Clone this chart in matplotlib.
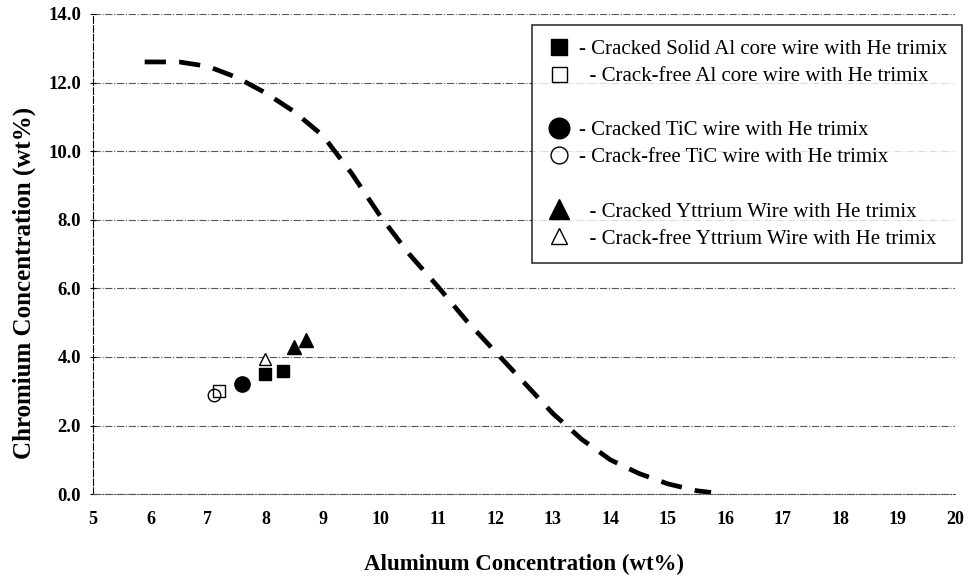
import matplotlib
matplotlib.use("Agg")
import matplotlib.pyplot as plt
from matplotlib.lines import Line2D
import numpy as np

plt.rcParams['font.family'] = ['Liberation Serif', 'DejaVu Serif']

# dashed boundary curve
curve_al = [5.9, 6.5, 7.0, 7.5, 8.0, 8.5, 9.0, 9.5, 10.0, 10.5, 11.0, 11.5,
            12.0, 12.5, 13.0, 13.5, 14.0, 14.5, 15.0, 15.5, 15.75]
curve_cr = [12.6, 12.6, 12.47, 12.15, 11.7, 11.15, 10.45, 9.35, 8.1, 7.0, 6.05,
            5.05, 4.15, 3.25, 2.35, 1.6, 1.0, 0.6, 0.3, 0.1, 0.05]

# samples
solid_cracked_al = [8.0, 8.3]
solid_cracked_cr = [3.5, 3.6]
solid_free_al = [7.2]
solid_free_cr = [3.0]
tic_cracked_al = [7.6]
tic_cracked_cr = [3.2]
tic_free_al = [7.1]
tic_free_cr = [2.9]
y_cracked_al = [8.5, 8.7]
y_cracked_cr = [4.3, 4.5]
y_free_al = [8.0]
y_free_cr = [3.95]

labels = [
    "- Cracked Solid Al core wire with He trimix",
    "  - Crack-free Al core wire with He trimix",
    "- Cracked TiC wire with He trimix",
    "- Crack-free TiC wire with He trimix",
    "  - Cracked Yttrium Wire with He trimix",
    "  - Crack-free Yttrium Wire with He trimix",
]

fig = plt.figure(figsize=(9.68, 5.8), dpi=100)
ax = fig.add_axes([0.096, 0.148, 0.891, 0.828])

ax.plot(curve_al, curve_cr, color='black', lw=3.4, ls=(0, (4.5, 2.8)),
        solid_capstyle='round')

h1, = ax.plot(solid_cracked_al, solid_cracked_cr, 's', color='black', ms=8.5, ls='none')
h2, = ax.plot(solid_free_al, solid_free_cr, 's', mfc='white', mec='black', ms=8, mew=1, ls='none')
h3, = ax.plot(tic_cracked_al, tic_cracked_cr, 'o', color='black', ms=11, ls='none')
h4, = ax.plot(tic_free_al, tic_free_cr, 'o', mfc='none', mec='black', ms=9, mew=1, ls='none')
h5, = ax.plot(y_cracked_al, y_cracked_cr, '^', color='black', ms=10.5, ls='none')
h6, = ax.plot(y_free_al, y_free_cr, '^', mfc='white', mec='black', ms=9, mew=1, ls='none')

ax.set_xlim(5, 20)
ax.set_ylim(0, 14)
ax.set_xticks(range(5, 21))
ax.set_yticks(np.arange(0, 15, 2))
ax.set_yticklabels([f"{v:.1f}" for v in np.arange(0, 15, 2)])
ax.tick_params(axis='x', length=0, pad=12, labelsize=13)
ax.tick_params(axis='y', direction='inout', length=5, pad=6, labelsize=13.5)
for lab in ax.get_xticklabels() + ax.get_yticklabels():
    lab.set_fontweight('bold')

ax.grid(axis='y', color='#555555', lw=0.8, ls='-.')
for s in ['top', 'right']:
    ax.spines[s].set_visible(False)
ax.spines['bottom'].set_linestyle('-.')
ax.spines['bottom'].set_color('#555555')
ax.spines['bottom'].set_linewidth(0.8)
ax.spines['left'].set_linestyle((0, (6, 2)))
ax.spines['left'].set_linewidth(0.8)

ax.set_xlabel("Aluminum Concentration (wt%)", fontsize=16.5, fontweight='bold', labelpad=19)
ax.set_ylabel("Chromium Concentration (wt%)", fontsize=18, fontweight='bold')
ax.yaxis.set_label_coords(-0.066, 0.44)

blank = Line2D([], [], ls='none')
handles = [h1, h2, blank, h3, h4, blank, h5, h6]
labs = [labels[0], labels[1], "", labels[2], labels[3], "", labels[4], labels[5]]
leg = ax.legend(handles, labs, loc='upper left', bbox_to_anchor=(0.509, 0.977),
                frameon=True, fancybox=False, edgecolor='black', fontsize=15,
                markerscale=1.35, handlelength=1.2, handletextpad=0.35,
                labelspacing=0.36, borderpad=0.7, borderaxespad=0)
leg.get_frame().set_linewidth(1.2)

fig.savefig("out.png", dpi=100, facecolor='white')
